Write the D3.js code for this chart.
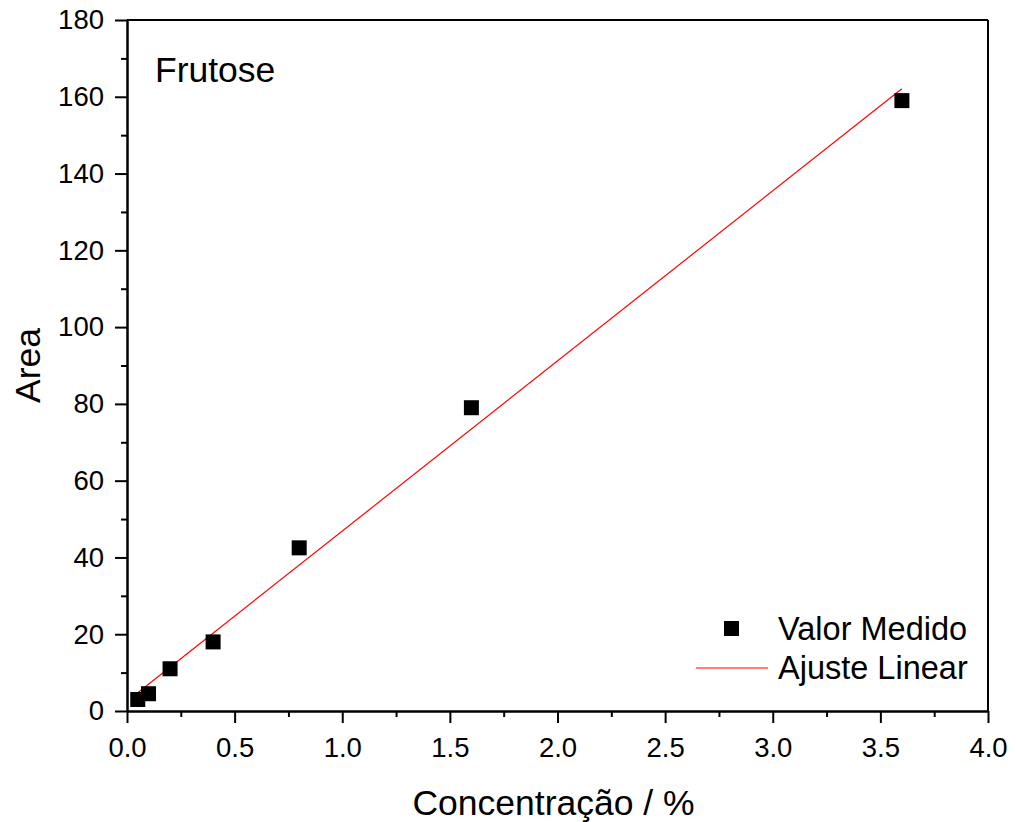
<!DOCTYPE html>
<html>
<head>
<meta charset="utf-8">
<script src="https://cdn.jsdelivr.net/npm/d3@7"></script>
<style>
  body { margin: 0; background: #fff; }
  svg text { font-family: "Liberation Sans", Arial, sans-serif; fill: #000; }
</style>
</head>
<body>
<svg id="chart" width="1016" height="822"></svg>
<script>
// measured data (Concentração / %, Area)
const concentracao = [0.05, 0.1, 0.2, 0.4, 0.8, 1.6, 3.6];
const area = [3.0, 4.5, 11.0, 18.0, 42.5, 79.0, 159.0];
const xTicks = [0, 0.5, 1.0, 1.5, 2.0, 2.5, 3.0, 3.5, 4.0];
const yTicks = [0, 20, 40, 60, 80, 100, 120, 140, 160, 180];
const legendLabels = ["Valor Medido", "Ajuste Linear"];

let svg = d3.select("svg#chart");
let margin = {left: 127, right: 28, top: 20, bottom: 111};
let width = 1016 - margin.left - margin.right;
let height = 822 - margin.top - margin.bottom;

let x = d3.scaleLinear().domain([0, 4]).range([0, width]);
let y = d3.scaleLinear().domain([0, 180]).range([height, 0]);

let g = svg.append("g").attr("transform", `translate(${margin.left},${margin.top})`);

// least squares fit
let n = concentracao.length;
let sx = d3.sum(concentracao), sy = d3.sum(area);
let sxx = d3.sum(concentracao, d => d * d);
let sxy = d3.sum(concentracao, (d, i) => d * area[i]);
let slope = (n * sxy - sx * sy) / (n * sxx - sx * sx);
let intercept = (sy - slope * sx) / n;
let fitX = d3.extent(concentracao);

g.append("line")
  .attr("x1", x(fitX[0])).attr("y1", y(intercept + slope * fitX[0]))
  .attr("x2", x(fitX[1])).attr("y2", y(intercept + slope * fitX[1]))
  .attr("stroke", "#ff0000").attr("stroke-width", 1.2);

// squares
let sq = 15;
g.selectAll("rect.pt")
  .data(concentracao)
  .join("rect")
  .attr("class", "pt")
  .attr("x", d => x(d) - sq / 2)
  .attr("y", (d, i) => y(area[i]) - sq / 2)
  .attr("width", sq).attr("height", sq)
  .attr("fill", "#000");

// axes
function styleAxis(sel) {
  sel.select(".domain").attr("stroke-width", 2).attr("stroke", "#000");
  sel.selectAll(".tick line").attr("stroke-width", 2).attr("stroke", "#000");
  sel.selectAll("text").style("font-size", "27.5px").attr("fill", "#000");
}

let xMinor = d3.range(0.25, 4, 0.5);
let yMinor = d3.range(10, 180, 20);

g.append("g").attr("transform", `translate(0,${height})`)
  .call(d3.axisBottom(x).tickValues(xMinor).tickSize(6).tickSizeOuter(0).tickFormat(""))
  .call(styleAxis);
g.append("g").attr("transform", `translate(0,${height})`)
  .call(d3.axisBottom(x).tickValues(xTicks).tickSize(12).tickSizeOuter(0).tickPadding(8)
    .tickFormat(d3.format(".1f")))
  .call(styleAxis)
  .selectAll("text").attr("dy", "0.95em");

g.append("g")
  .call(d3.axisLeft(y).tickValues(yMinor).tickSize(6).tickSizeOuter(0).tickFormat(""))
  .call(styleAxis);
g.append("g")
  .call(d3.axisLeft(y).tickValues(yTicks).tickSize(12).tickSizeOuter(0).tickPadding(11)
    .tickFormat(d3.format("d")))
  .call(styleAxis);

// top & right frame
g.append("line").attr("x1", 0).attr("x2", width).attr("y1", 0).attr("y2", 0)
  .attr("stroke", "#000").attr("stroke-width", 2);
g.append("line").attr("x1", width).attr("x2", width).attr("y1", 0).attr("y2", height)
  .attr("stroke", "#000").attr("stroke-width", 2);

// axis titles
svg.append("text")
  .attr("x", margin.left + width / 2 - 4).attr("y", 815)
  .attr("text-anchor", "middle").style("font-size", "35.5px")
  .text("Concentração / %");
svg.append("text")
  .attr("transform", `translate(40,${margin.top + height / 2}) rotate(-90)`)
  .attr("text-anchor", "middle").style("font-size", "35.5px")
  .text("Area");

// label
svg.append("text").attr("x", 155).attr("y", 82).style("font-size", "35.5px").text("Frutose");

// legend
let leg = svg.append("g").attr("transform", "translate(696,0)");
leg.append("rect").attr("x", 28).attr("y", 621).attr("width", 15).attr("height", 15).attr("fill", "#000");
leg.append("line").attr("x1", 0).attr("x2", 72).attr("y1", 668).attr("y2", 668)
  .attr("stroke", "#ff0000").attr("stroke-width", 1.2);
leg.selectAll("text.leg")
  .data(legendLabels)
  .join("text")
  .attr("class", "leg")
  .attr("x", 82)
  .attr("y", (d, i) => 640 + i * 38.5)
  .style("font-size", "32.5px")
  .text(d => d);
</script>
</body>
</html>
